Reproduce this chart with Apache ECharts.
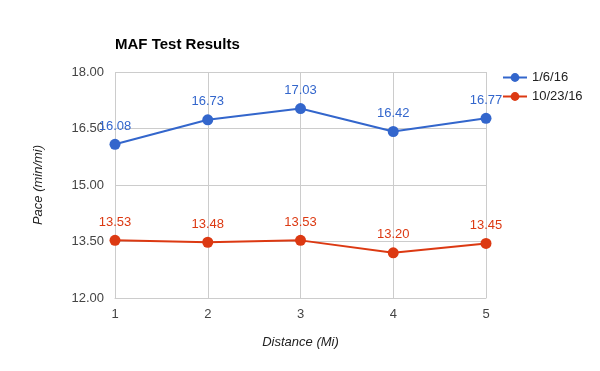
<!DOCTYPE html>
<html><head><meta charset="utf-8">
<script src="https://cdn.jsdelivr.net/npm/echarts@6/dist/echarts.min.js"></script>
<style>html,body{margin:0;padding:0;background:#fff}#c{width:600px;height:371px}</style>
</head><body><div id="c"></div>
<script>
const distances = [1, 2, 3, 4, 5];
const seriesNames = ['1/6/16', '10/23/16'];
const jan = [16.08, 16.73, 17.03, 16.42, 16.77];
const oct = [13.53, 13.48, 13.53, 13.20, 13.45];
const yTicks = [12, 13.5, 15, 16.5, 18];
const colors = ['#3366cc', '#dc3912'];
const font = 'Arial, "Liberation Sans", sans-serif';

const chart = echarts.init(document.getElementById('c'), null, {renderer: 'canvas'});
function mk(name, vals, color) {
  return {
    name: name, type: 'line', data: distances.map((d, i) => [d, vals[i]]),
    symbol: 'circle', symbolSize: 11, color: color,
    lineStyle: {width: 2, color: color}, itemStyle: {color: color},
    label: {show: true, position: 'top', distance: 6, color: color, fontSize: 13, fontFamily: font,
      formatter: p => p.value[1].toFixed(2)},
    animation: false
  };
}
chart.setOption({
  animation: false,
  title: {text: 'MAF Test Results', left: 115, top: 37, padding: 0,
    textStyle: {fontFamily: font, fontSize: 15, fontWeight: 'bold', color: '#000'}},
  legend: {orient: 'vertical', left: 497, top: 66, itemWidth: 24, itemHeight: 11, itemGap: 6,
    textStyle: {fontFamily: font, fontSize: 13, color: '#222'}, data: seriesNames},
  grid: {left: 115, top: 72, width: 371, height: 226, containLabel: false},
  xAxis: {type: 'value', min: 1, max: 5, interval: 1,
    name: 'Distance (Mi)', nameLocation: 'middle', nameGap: 38,
    nameTextStyle: {fontFamily: font, fontSize: 13, fontStyle: 'italic', color: '#222'},
    axisLine: {show: true, lineStyle: {color: '#ccc'}}, axisTick: {show: false},
    axisLabel: {fontFamily: font, fontSize: 13, color: '#444', margin: 10},
    splitLine: {show: true, lineStyle: {color: '#ccc'}}},
  yAxis: {type: 'value', min: 12, max: 18, interval: 1.5,
    name: 'Pace (min/mi)', nameLocation: 'middle', nameGap: 70, nameRotate: 90,
    nameTextStyle: {fontFamily: font, fontSize: 13, fontStyle: 'italic', color: '#222'},
    axisLine: {show: false}, axisTick: {show: false},
    axisLabel: {fontFamily: font, fontSize: 13, color: '#444', margin: 11,
      formatter: v => v.toFixed(2)},
    splitLine: {show: true, lineStyle: {color: '#ccc'}}},
  series: [mk(seriesNames[0], jan, colors[0]), mk(seriesNames[1], oct, colors[1])]
});
</script></body></html>
